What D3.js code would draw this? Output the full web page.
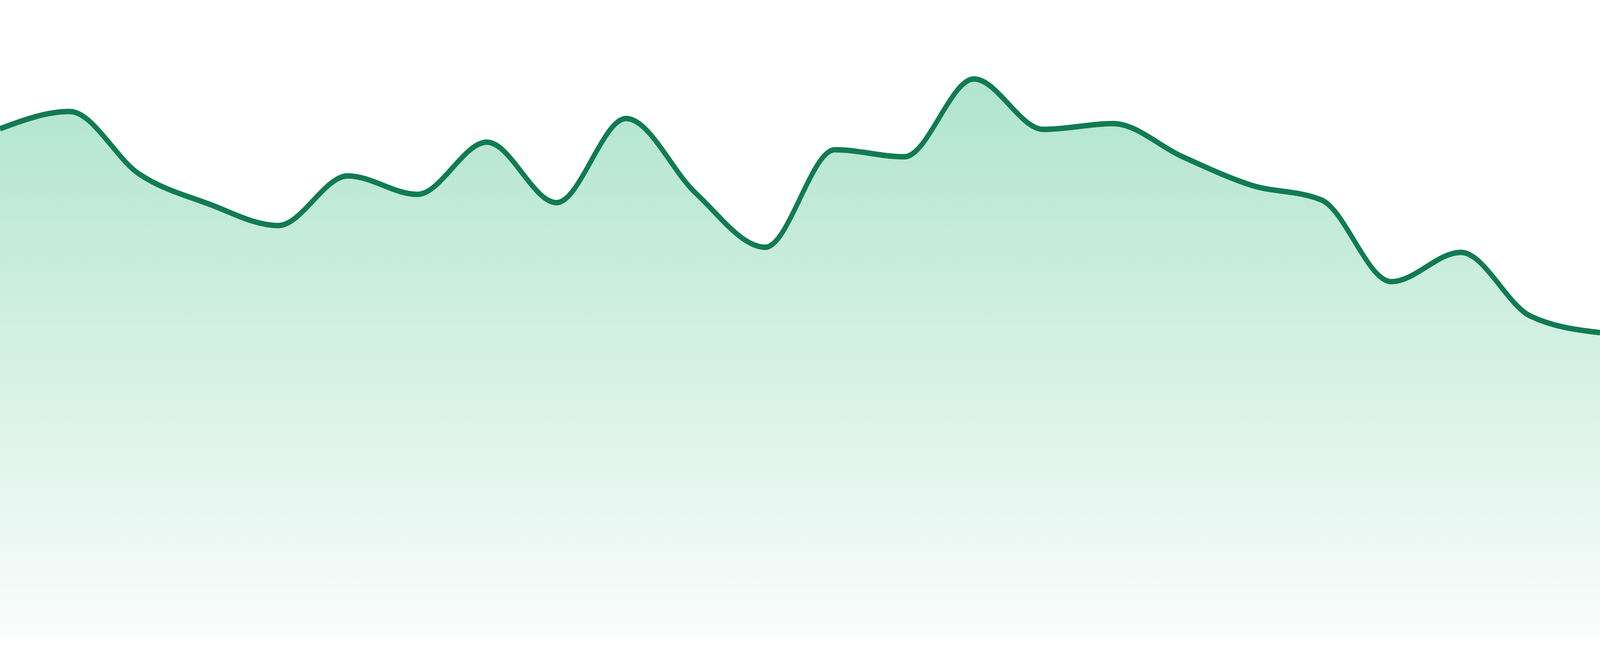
<!DOCTYPE html>
<html>
<head>
<meta charset="utf-8">
<script src="https://cdn.jsdelivr.net/npm/d3@7"></script>
<style>
  html, body { margin: 0; padding: 0; width: 100%; height: 100%; background: #fff; overflow: hidden; }
  svg { display: block; width: 100%; height: 100%; }
</style>
</head>
<body>
<svg viewBox="0 0 4800 1680" preserveAspectRatio="none"></svg>
<script>
// one value per day
var days = ["1", "2", "3", "4", "5", "6", "7", "8", "9", "10", "11", "12",
            "13", "14", "15", "16", "17", "18", "19", "20", "21", "22", "23", "24"];
var values = [79.8, 82.5, 72.7, 68.0, 64.6, 72.4, 69.5, 77.7, 68.2, 81.4, 69.7, 61.2,
              76.5, 75.4, 87.6, 79.7, 80.6, 75.4, 70.9, 68.6, 55.8, 60.4, 50.4, 47.8];
var yDomain = [0, 100];

// drawing is done in a fixed 4800x1680 user space, the viewBox stretches it to the window
var svg = d3.select("svg"),
    width = 4800,
    height = 1680,
    margin = {top: 0, right: 0, bottom: 48, left: 0};

var data = days.map(function(d, i) { return {day: d, value: values[i]}; });

var x = d3.scalePoint()
    .domain(days)
    .range([margin.left, width - margin.right]);

var y = d3.scaleLinear()
    .domain(yDomain)
    .range([height - margin.bottom, margin.top]);

var grad = svg.append("defs").append("linearGradient")
    .attr("id", "fillGrad")
    .attr("x1", 0).attr("y1", 0)
    .attr("x2", 0).attr("y2", 1);
grad.append("stop").attr("offset", "0%").attr("stop-color", "#b0e4ce");
grad.append("stop").attr("offset", "100%").attr("stop-color", "#fafdfc");

var area = d3.area()
    .curve(d3.curveMonotoneX)
    .x(function(d) { return x(d.day); })
    .y0(y(0))
    .y1(function(d) { return y(d.value); });

var line = d3.line()
    .curve(d3.curveMonotoneX)
    .x(function(d) { return x(d.day); })
    .y(function(d) { return y(d.value); });

svg.append("path")
    .datum(data)
    .attr("fill", "url(#fillGrad)")
    .attr("d", area);

svg.append("path")
    .datum(data)
    .attr("fill", "none")
    .attr("stroke", "#117b53")
    .attr("stroke-width", 14)
    .attr("stroke-linejoin", "round")
    .attr("d", line);
</script>
</body>
</html>
